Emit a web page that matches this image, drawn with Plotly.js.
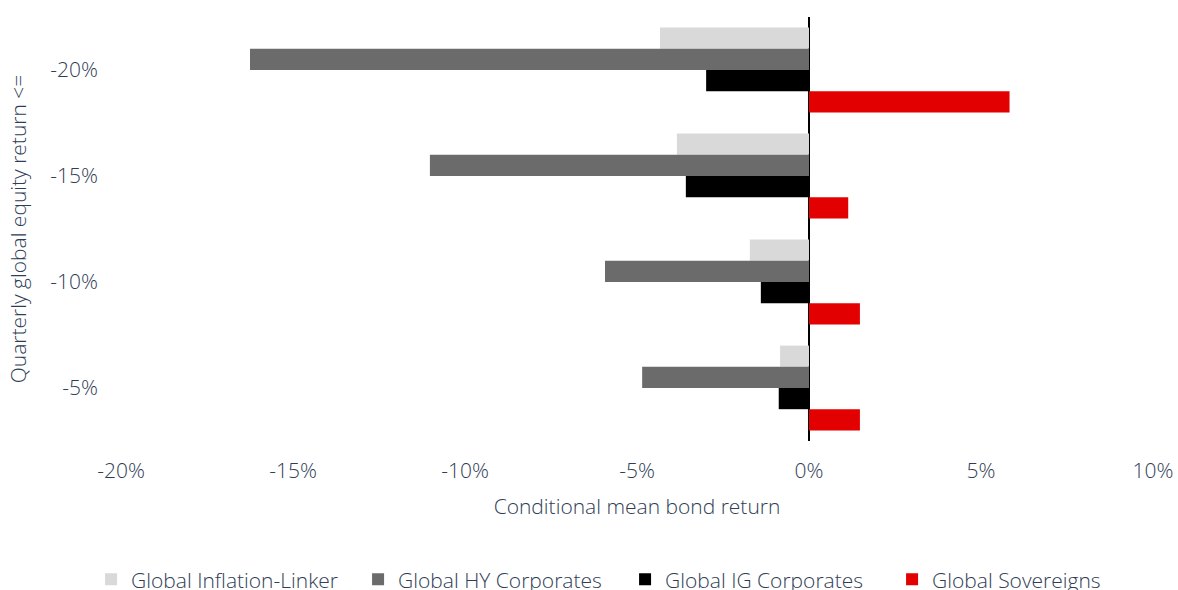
<!DOCTYPE html>
<html>
<head>
<meta charset="utf-8">
<script src="https://cdn.plot.ly/plotly-3.0.1.min.js"></script>
<style>html,body{margin:0;padding:0;background:#fff;}#chart{width:1178px;height:590px;}</style>
</head>
<body>
<div id="chart"></div>
<script>
const categories = ["-20%", "-15%", "-10%", "-5%"];
const seriesNames = ["Global Inflation-Linker", "Global HY Corporates", "Global IG Corporates", "Global Sovereigns"];
const inflationLinker = [-4.33, -3.84, -1.72, -0.84];
const hyCorporates = [-16.25, -11.02, -5.93, -4.85];
const igCorporates = [-2.99, -3.58, -1.40, -0.88];
const sovereigns = [5.83, 1.14, 1.48, 1.48];
const xTickVals = [-20, -15, -10, -5, 0, 5, 10];
const xTickText = ["-20%", "-15%", "-10%", "-5%", "0%", "5%", "10%"];
const colors = ["#d9d9d9", "#6b6b6b", "#000000", "#e30000"];

const seriesValues = [inflationLinker, hyCorporates, igCorporates, sovereigns];
const textColor = "#2f3d55";
const fontFamily = "'Open Sans', 'Liberation Sans', sans-serif";
const fnt = {family: fontFamily, size: 21, color: textColor, weight: 300};

const traces = seriesValues.map((vals, i) => ({
  type: "bar",
  orientation: "h",
  name: seriesNames[i],
  y: categories,
  x: vals,
  marker: {color: colors[i], line: {width: 0}},
  hoverinfo: "x+name"
}));

const layout = {
  width: 1178,
  height: 590,
  margin: {l: 121, r: 25, t: 17, b: 149, autoexpand: false},
  paper_bgcolor: "#ffffff",
  plot_bgcolor: "#ffffff",
  font: fnt,
  barmode: "group",
  bargap: 0.2,
  bargroupgap: 0,
  showlegend: true,
  legend: {
    orientation: "h",
    x: -0.029, xanchor: "left",
    y: -0.327, yanchor: "middle",
    font: fnt,
    traceorder: "normal",
    itemwidth: 30,
    entrywidth: 222
  },
  xaxis: {
    range: [-20, 10],
    tickvals: xTickVals,
    ticktext: xTickText,
    showgrid: false,
    zeroline: true,
    zerolinecolor: "#000000",
    zerolinewidth: 1.5,
    showline: false,
    ticks: "",
    ticklabelstandoff: 15,
    tickfont: fnt,
    title: {text: "Conditional mean bond return", standoff: 16, font: fnt},
    automargin: false,
    fixedrange: true
  },
  yaxis: {
    type: "category",
    categoryorder: "array",
    categoryarray: categories,
    autorange: "reversed",
    showgrid: false,
    zeroline: false,
    showline: false,
    ticks: "",
    ticklabelstandoff: 22,
    tickfont: fnt,
    title: {text: "Quarterly global equity return <=", standoff: 17, font: fnt},
    automargin: false,
    fixedrange: true
  }
};

Plotly.newPlot("chart", traces, layout, {displayModeBar: false, staticPlot: true});
</script>
</body>
</html>
